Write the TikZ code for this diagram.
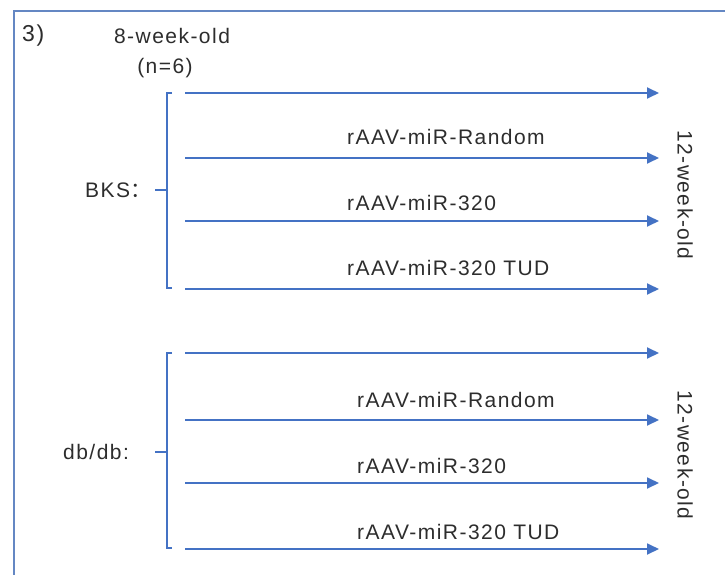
\documentclass[tikz,border=0pt]{standalone}
\usepackage{fontspec}
\setmainfont{Liberation Sans}[LetterSpace=7]
\newfontfamily\cjkfont{Noto Sans CJK SC}
\usetikzlibrary{arrows.meta}
\definecolor{arrowblue}{RGB}{68,114,196}
\definecolor{framblue}{RGB}{100,135,195}
\definecolor{txt}{RGB}{45,45,45}
\tikzset{
  flow/.style={draw=arrowblue, line width=1.8pt, -{Triangle[length=12pt,width=11pt]}},
  brace/.style={draw=arrowblue, line width=1.6pt},
  lbl/.style={text=txt, font=\fontsize{21}{25}\selectfont, inner sep=0pt, anchor=west},
  ctr/.style={text=txt, font=\fontsize{21}{25}\selectfont, inner sep=0pt},
}
\begin{document}
\begin{tikzpicture}[x=1pt,y=-1pt]
\useasboundingbox (0,0) rectangle (725,575);
\fill[white] (0,0) rectangle (725,575);
\draw[framblue, line width=1.8pt] (14,11) rectangle (740,590);
\node[lbl, font=\fontsize{23}{27}\selectfont] (num) at (22,36) {3)};
\node[ctr] (start) at (172,36) {8-week-old};
\node[ctr] (n) at (165,68) {(n=6)};
% BKS group
\node[lbl] (bks) at (85,190) {BKS{\cjkfont ：}};
\coordinate (b1s) at (185,93);  \coordinate (b1e) at (659,93);
\coordinate (b2s) at (185,158); \coordinate (b2e) at (659,158);
\coordinate (b3s) at (185,221); \coordinate (b3e) at (659,221);
\coordinate (b4s) at (185,289); \coordinate (b4e) at (659,289);
\draw[brace] (172,93) -- (167,93) -- (167,288) -- (172,288);
\coordinate (bm) at (167,190); \coordinate (bmt) at (155,190);
\draw[brace] (bm) -- (bmt);
\draw[flow] (b1s) -- (b1e);
\draw[flow] (b2s) -- (b2e);
\draw[flow] (b3s) -- (b3e);
\draw[flow] (b4s) -- (b4e);
\node[lbl] (b2l) at (347,137) {rAAV-miR-Random};
\node[lbl] (b3l) at (347,203) {rAAV-miR-320};
\node[lbl] (b4l) at (347,268) {rAAV-miR-320 TUD};
\node[ctr, rotate=-90] (bend) at (685,195) {12-week-old};
% db/db group
\node[lbl] (db) at (63,452) {db/db:};
\coordinate (d1s) at (185,353); \coordinate (d1e) at (659,353);
\coordinate (d2s) at (185,420); \coordinate (d2e) at (659,420);
\coordinate (d3s) at (185,483); \coordinate (d3e) at (659,483);
\coordinate (d4s) at (185,549); \coordinate (d4e) at (659,549);
\draw[brace] (172,353) -- (167,353) -- (167,548) -- (172,548);
\coordinate (dm) at (167,452); \coordinate (dmt) at (155,452);
\draw[brace] (dm) -- (dmt);
\draw[flow] (d1s) -- (d1e);
\draw[flow] (d2s) -- (d2e);
\draw[flow] (d3s) -- (d3e);
\draw[flow] (d4s) -- (d4e);
\node[lbl] (d2l) at (357,400) {rAAV-miR-Random};
\node[lbl] (d3l) at (357,466) {rAAV-miR-320};
\node[lbl] (d4l) at (357,532) {rAAV-miR-320 TUD};
\node[ctr, rotate=-90] (dend) at (685,455) {12-week-old};
\end{tikzpicture}
\end{document}
